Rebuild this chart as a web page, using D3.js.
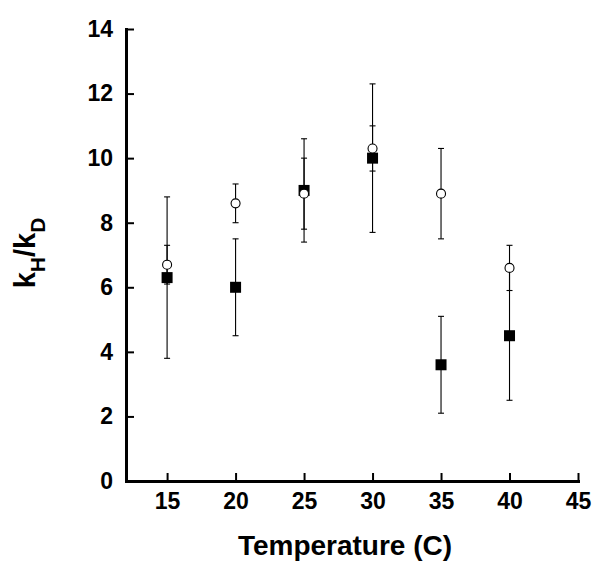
<!DOCTYPE html>
<html>
<head>
<meta charset="utf-8">
<script src="https://cdn.jsdelivr.net/npm/d3@7"></script>
<style>
  html, body { margin: 0; padding: 0; background: #fff; }
  svg { display: block; }
</style>
</head>
<body>
<svg id="chart" width="600" height="574"></svg>
<script>
// ---- data ----
const temperatures = [15, 20, 25, 30, 35, 40];
// open circles
const openValues = [6.7, 8.6, 8.9, 10.3, 8.9, 6.6];
const openErrors = [0.6, 0.6, 1.1, 0.7, 1.4, 0.7];
// filled squares
const filledValues = [6.3, 6.0, 9.0, 10.0, 3.6, 4.5];
const filledErrors = [2.5, 1.5, 1.6, 2.3, 1.5, 2.0];
const xTicks = [15, 20, 25, 30, 35, 40, 45];
const yTicks = [0, 2, 4, 6, 8, 10, 12, 14];

const svg = d3.select("#chart");
const font = "'Liberation Sans', Arial, Helvetica, sans-serif";

const x = d3.scaleLinear().domain([12, 45]).range([126, 578]);
const y = d3.scaleLinear().domain([0, 14]).range([481, 29]);

// axes
const xAxis = d3.axisBottom(x).tickValues(xTicks).tickSizeInner(-8).tickSizeOuter(0).tickPadding(12);
const yAxis = d3.axisLeft(y).tickValues(yTicks).tickSizeInner(-8).tickSizeOuter(0).tickPadding(13);

const gx = svg.append("g").attr("transform", `translate(0,${y(0)})`).call(xAxis);
const gy = svg.append("g").attr("transform", `translate(${x(12)},0)`).call(yAxis);

[gx, gy].forEach(g => {
  g.attr("font-size", 23).attr("font-family", font).attr("font-weight", "bold");
  g.select(".domain").attr("stroke", "#000").attr("stroke-width", 3).attr("stroke-linecap", "square");
  g.selectAll(".tick line").attr("stroke", "#000").attr("stroke-width", 2);
  g.selectAll(".tick text")
    .style("font-family", font)
    .style("font-weight", "bold")
    .style("font-size", "23px")
    .attr("fill", "#000");
});

// error bars
function errorBars(vals, errs, cls) {
  const data = temperatures.map((t, i) => ({ t, v: vals[i], e: errs[i] }));
  const g = svg.append("g").attr("class", cls).attr("stroke", "#000").attr("stroke-width", 1.1);
  g.selectAll("line.v").data(data).enter().append("line")
    .attr("x1", d => x(d.t)).attr("x2", d => x(d.t))
    .attr("y1", d => y(d.v + d.e)).attr("y2", d => y(d.v - d.e));
  ["+", "-"].forEach(s => {
    g.selectAll("line.c" + (s === "+" ? "u" : "d")).data(data).enter().append("line")
      .attr("x1", d => x(d.t) - 3).attr("x2", d => x(d.t) + 3)
      .attr("y1", d => y(s === "+" ? d.v + d.e : d.v - d.e))
      .attr("y2", d => y(s === "+" ? d.v + d.e : d.v - d.e));
  });
}
errorBars(filledValues, filledErrors, "err-filled");
errorBars(openValues, openErrors, "err-open");

// squares
const sq = 11;
svg.append("g").selectAll("rect")
  .data(temperatures.map((t, i) => ({ t, v: filledValues[i] })))
  .enter().append("rect")
  .attr("x", d => x(d.t) - sq / 2)
  .attr("y", d => y(d.v) - sq / 2)
  .attr("width", sq).attr("height", sq)
  .attr("fill", "#000");

// circles
svg.append("g").selectAll("circle")
  .data(temperatures.map((t, i) => ({ t, v: openValues[i] })))
  .enter().append("circle")
  .attr("cx", d => x(d.t))
  .attr("cy", d => y(d.v))
  .attr("r", 4.5)
  .attr("fill", "#fff")
  .attr("stroke", "#000")
  .attr("stroke-width", 1.1);

// x title
svg.append("text")
  .attr("x", (x(12) + x(45)) / 2 - 7)
  .attr("y", 555)
  .attr("text-anchor", "middle")
  .attr("font-family", font)
  .attr("font-weight", "bold")
  .attr("font-size", 28)
  .attr("fill", "#000")
  .text("Temperature (C)");

// y title: k_H / k_D rotated
const yt = svg.append("text")
  .attr("transform", `translate(35,${(y(0) + y(14)) / 2 - 2}) rotate(-90)`)
  .attr("text-anchor", "middle")
  .attr("font-family", font)
  .attr("font-weight", "bold")
  .attr("font-size", 29)
  .attr("fill", "#000");
yt.append("tspan").text("k");
yt.append("tspan").attr("font-size", 21).attr("dy", 10).text("H");
yt.append("tspan").attr("dy", -10).text("/k");
yt.append("tspan").attr("font-size", 21).attr("dy", 10).text("D");
</script>
</body>
</html>
